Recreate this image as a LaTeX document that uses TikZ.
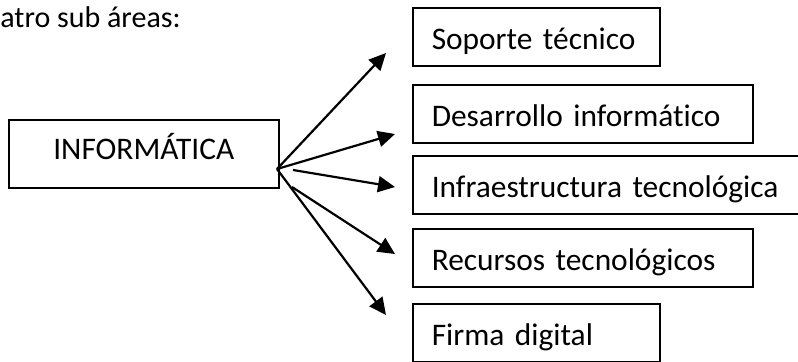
\documentclass[tikz,border=0pt]{standalone}
\usepackage{fontspec}
\setmainfont{Carlito}[RawFeature={-liga;-clig;-calt}]
\usetikzlibrary{arrows.meta}
\begin{document}
\begin{tikzpicture}
  [
    x=0.5pt,y=-0.5pt,
    font=\fontsize{15.7}{19}\selectfont,
    main/.style={rectangle,draw,line width=0.75pt,minimum width=135pt,minimum height=34pt,
      inner sep=0pt,text height=10pt,text depth=4pt,anchor=north west},
    area/.style={rectangle,draw,line width=0.75pt,inner xsep=9.5pt,inner ysep=0pt,
      text width=#1,align=left,minimum height=29pt,text height=14pt,text depth=1pt,anchor=north west},
    link/.style={line width=1.1pt,-{Triangle[length=8.5pt,width=8pt]}},
  ]
  \useasboundingbox (0,0) rectangle (798,361);
  \node (intro) at (0,27) [anchor=base west,inner sep=0pt,font=\fontsize{15}{18}\selectfont] {atro sub áreas:};
  % main box
  \node (info) at (8,119) [main] {INFORMÁTICA};
  % sub areas
  \node (soporte)    at (412,7)   [area=104.5pt] {Soporte técnico};
  \node (desarrollo) at (412,84)  [area=151pt]   {Desarrollo informático};
  \node (infra)      at (412,155) [area=177pt]   {Infraestructura tecnológica};
  \node (recursos)   at (412,228) [area=151pt]   {Recursos tecnológicos};
  \node (firma)      at (412,303) [area=104.5pt] {Firma digital};
  % arrow ends
  \coordinate (hub)  at (277,169);
  \coordinate (hubA) at (293,170);
  \coordinate (hubB) at (292,187);
  \coordinate (tsoporte)    at (386,53);
  \coordinate (tdesarrollo) at (395,134);
  \coordinate (tinfra)      at (395,187);
  \coordinate (trecursos)   at (395,254);
  \coordinate (tfirma)      at (386,315);
  \draw [link] (hub)  -- (tsoporte);
  \draw [link] (hub)  -- (tdesarrollo);
  \draw [link] (hubA) -- (tinfra);
  \draw [link] (hubB) -- (trecursos);
  \draw [link] (hub)  -- (tfirma);
\end{tikzpicture}
\end{document}
